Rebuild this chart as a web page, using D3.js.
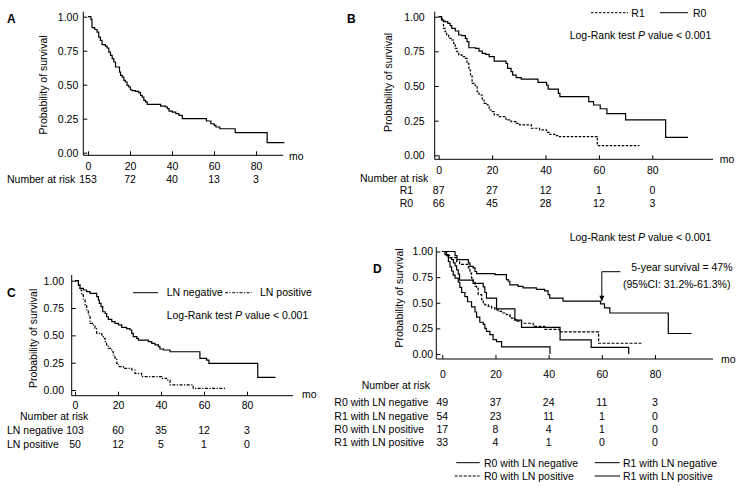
<!DOCTYPE html>
<html><head><meta charset="utf-8">
<script src="https://cdn.jsdelivr.net/npm/d3@7"></script>
<style>
body{margin:0;background:#fff}
svg{display:block}
text{font-family:"Liberation Sans",Arial,sans-serif;font-size:10.5px;fill:#000}
</style></head><body>
<svg id="c" width="746" height="487"></svg>
<script>
// ---------- data ----------
const timeTicks = [0, 20, 40, 60, 80];
const survTicks = [0, 0.25, 0.5, 0.75, 1];
const survTickLabels = ["0.00", "0.25", "0.50", "0.75", "1.00"];
const yTitle = "Probability of survival";
const xUnit = "mo";
const riskTitle = "Number at risk";
const logRankText = ["Log-Rank test ", "P", " value < 0.001"];

// Panel A: all patients
const aTime = [0,1.4,1.9,3.2,4.3,5.1,5.9,6.7,8.3,9.1,9.9,10.7,11.5,12.3,13.1,15.0,15.5,16.3,17.1,17.8,18.6,19.4,20.2,21.0,22.6,24.2,25.0,25.8,26.6,27.4,28.2,34.6,37.0,37.8,38.6,40.2,41.8,43.3,44.9,56.4,58.5,60.1,60.9,62.8,70.1,85.3,93.5];
const aSurv = [1,0.98,0.92,0.906,0.887,0.85,0.826,0.794,0.784,0.77,0.74,0.716,0.691,0.667,0.63,0.593,0.569,0.556,0.532,0.52,0.495,0.483,0.463,0.456,0.451,0.441,0.422,0.409,0.385,0.373,0.355,0.343,0.336,0.324,0.306,0.299,0.287,0.275,0.25,0.233,0.213,0.201,0.189,0.176,0.147,0.074,0.074];
const aRisk = [153, 72, 40, 13, 3];

// Panel B: R1 vs R0
const bSeries = ["R1", "R0"];
const bR1Time = [0,1.0,1.8,2.4,3.0,3.7,4.9,5.6,6.2,6.8,7.5,8.7,10,10.6,11.3,11.9,12.5,13.2,13.8,14.4,15.1,16.3,17,18.2,18.9,20.1,20.8,22.7,25.2,27.1,29,30.3,34.7,37.8,40.4,41.6,43.5,44.8,59.4,75.2];
const bR1Surv = [1,0.985,0.916,0.892,0.868,0.844,0.832,0.808,0.772,0.748,0.724,0.712,0.70,0.663,0.615,0.579,0.519,0.507,0.495,0.459,0.435,0.399,0.375,0.363,0.327,0.315,0.291,0.279,0.255,0.243,0.231,0.219,0.195,0.183,0.166,0.151,0.142,0.135,0.07,0.07];
const bR0Time = [0,1.1,1.8,2.4,3.4,4.3,4.9,6.2,7.5,8.7,10,10.6,11.3,13.8,15.1,16.3,17.6,18.9,20.8,25.2,25.8,27.1,27.7,29,30.9,37.2,40.4,41,44.8,45.4,56.2,58,60.5,63,70,85,93.4];
const bR0Surv = [1,0.976,0.969,0.964,0.952,0.935,0.916,0.897,0.868,0.863,0.844,0.82,0.776,0.772,0.752,0.736,0.728,0.712,0.68,0.663,0.627,0.603,0.579,0.56,0.55,0.526,0.507,0.478,0.447,0.423,0.387,0.363,0.336,0.30,0.255,0.13,0.13];
const bRiskR1 = [87, 27, 12, 1, 0];
const bRiskR0 = [66, 45, 28, 12, 3];

// Panel C: LN negative vs LN positive
const cSeries = ["LN negative", "LN positive"];
const cNegTime = [0,1.6,2.3,3.9,5.4,7,10.1,10.9,11.3,12.1,12.9,14,14.7,15.5,17.1,18.6,20.2,21.7,24,25.6,26.4,27.1,28.7,29.5,34.1,35.7,37.2,38.8,39.5,41.1,44.2,58.1,61.2,62.3,85,93.3];
const cNegSurv = [1,0.96,0.93,0.915,0.9,0.884,0.854,0.823,0.793,0.762,0.716,0.70,0.67,0.646,0.625,0.61,0.595,0.573,0.561,0.549,0.518,0.488,0.473,0.457,0.442,0.427,0.412,0.396,0.375,0.366,0.35,0.29,0.274,0.244,0.116,0.116];
const cPosTime = [0,1.6,2.3,3.1,3.9,4.7,5.4,6.2,7,8.5,9.3,10.1,12.4,13.2,14,14.7,15.5,17.1,17.8,18.6,19.4,20.2,22.5,26.4,27.9,31,40.3,42.6,44.2,55,69.8];
const cPosSurv = [1,0.96,0.915,0.87,0.823,0.777,0.732,0.686,0.61,0.595,0.564,0.518,0.503,0.473,0.442,0.412,0.381,0.35,0.32,0.29,0.244,0.213,0.198,0.183,0.152,0.122,0.107,0.09,0.046,0.015,0.015];
const cRiskNeg = [103, 60, 35, 12, 3];
const cRiskPos = [50, 12, 5, 1, 0];

// Panel D: four subgroups
const dSeries = ["R0 with LN negative", "R1 with LN negative", "R0 with LN positive", "R1 with LN positive"];
const dR0NegTime = [0,4.8,5.5,9.8,10.4,11.6,12.3,12.9,19.8,24.1,24.8,25.4,28.5,30.4,35.4,38.5,39.8,40.4,45.4,59.5,61,63,85,93.7];
const dR0NegSurv = [1,0.96,0.92,0.89,0.855,0.84,0.805,0.785,0.775,0.725,0.71,0.675,0.66,0.645,0.63,0.615,0.58,0.545,0.515,0.49,0.45,0.40,0.2,0.2];
const dR1NegTime = [0,1,2.3,3.5,4.2,4.8,5.4,6,6.5,11.6,15.4,16,16.6,20.4,27.3,29.8,44.3,56,70.1];
const dR1NegSurv = [1,0.97,0.94,0.92,0.89,0.86,0.82,0.78,0.72,0.69,0.655,0.60,0.545,0.44,0.33,0.26,0.137,0.065,0];
const dR0PosTime = [0,1.5,3,5.4,6.5,9.8,10.4,11,11.6,12.3,12.9,13.5,14.8,15.4,16,17.3,18.5,19.8,21,22.3,24.1,25.4,26,27.3,27.9,29.8,34.2,38.5,44.1,58.8,74.9];
const dR0PosSurv = [1,0.96,0.94,0.90,0.875,0.84,0.79,0.74,0.71,0.66,0.64,0.58,0.53,0.50,0.48,0.465,0.45,0.43,0.416,0.40,0.384,0.367,0.35,0.335,0.32,0.30,0.27,0.24,0.215,0.105,0.105];
const dR1PosTime = [0,1.6,2.3,2.9,3.5,4.1,4.8,6,6.6,7.3,8.5,9.5,11,12.3,12.9,14.1,15.4,16,16.6,17.9,19.1,20.4,22.3,40.5];
const dR1PosSurv = [1,0.96,0.90,0.85,0.81,0.77,0.74,0.70,0.65,0.60,0.56,0.51,0.46,0.41,0.36,0.31,0.29,0.25,0.22,0.19,0.14,0.12,0.07,0];
const dRisk = [[49,37,24,11,3],[54,23,11,1,0],[17,8,4,1,0],[33,4,1,0,0]];
const dNote = ["5-year survival = 47%", "(95%CI: 31.2%-61.3%)"];
const dNoteTime = 60, dNoteSurv = 0.51;

// ---------- drawing ----------
const svg = d3.select("#c");
const DASH = "2.5,1.5", DASHDOT = "3,1.5,1.2,1.5", DASH2 = "3,1.5";

function drawPanel(p) {
  const g = svg.append("g");
  const x = d3.scaleLinear().domain([0, 80]).range([p.x0, p.x80]);
  const y = d3.scaleLinear().domain([0, 1]).range([p.y0, p.y1]);

  g.append("path").attr("d", `M${p.ax},${p.axTop}V${p.axY}H${p.axRight}`)
    .attr("fill", "none").attr("stroke", "#000").attr("stroke-width", 1);

  const ya = g.append("g").attr("transform", `translate(${p.ax},0)`)
    .call(d3.axisLeft(y).tickValues(survTicks)
      .tickFormat(d => survTickLabels[survTicks.indexOf(d)])
      .tickSizeInner(-4).tickSizeOuter(0).tickPadding(p.yPad));
  ya.select(".domain").remove();

  const xa = g.append("g").attr("transform", `translate(0,${p.axY})`)
    .call(d3.axisBottom(x).tickValues(timeTicks).tickSizeInner(-4).tickSizeOuter(0));
  xa.select(".domain").remove();
  xa.selectAll("text").attr("y", p.xLabBase - p.axY).attr("dy", null);

  g.append("text").attr("x", p.moX).attr("y", p.moBase).text(xUnit);
  g.append("text").attr("transform", `translate(${p.yTitleX},${p.yTitleY}) rotate(-90)`)
    .attr("text-anchor", "middle").text(yTitle);
  g.append("text").attr("x", p.letterX).attr("y", p.letterBase)
    .style("font-size", "12px").style("font-weight", "bold").text(p.letter);

  const line = d3.line().x(d => x(d[0])).y(d => y(d[1])).curve(d3.curveStepAfter);
  p.curves.forEach(c => {
    g.append("path").datum(d3.zip(c.t, c.s)).attr("d", line)
      .attr("fill", "none").attr("stroke", "#000").attr("stroke-width", 1.2)
      .attr("stroke-dasharray", c.dash || null);
  });

  if (p.riskHeader) g.append("text").attr("x", p.riskHeader[0]).attr("y", p.riskHeader[1]).text(riskTitle);
  p.riskRows.forEach(r => {
    if (r.label) g.append("text").attr("x", r.lx).attr("y", r.base).text(r.label);
    g.selectAll(null).data(r.values).join("text")
      .attr("x", (d, i) => x(timeTicks[i])).attr("y", r.base)
      .attr("text-anchor", "middle").text(d => d);
  });
  return {g, x, y};
}

function logRank(g, xp, base) {
  const t = g.append("text").attr("x", xp).attr("y", base);
  t.append("tspan").text(logRankText[0]);
  t.append("tspan").style("font-style", "italic").text(logRankText[1]);
  t.append("tspan").text(logRankText[2]);
}
function legendItem(g, x1, x2, ly, dash, tx, base, label) {
  g.append("line").attr("x1", x1).attr("x2", x2).attr("y1", ly).attr("y2", ly)
    .attr("stroke", "#000").attr("stroke-width", 1).attr("stroke-dasharray", dash || null);
  g.append("text").attr("x", tx).attr("y", base).text(label);
}

// Panel A
drawPanel({
  letter: "A", letterX: 7, letterBase: 23,
  x0: 88, x80: 256, y0: 152.7, y1: 16.7,
  ax: 83.3, axTop: 11.7, axY: 155.3, axRight: 283.3, yPad: 5, xLabBase: 170,
  moX: 289, moBase: 160, yTitleX: 47, yTitleY: 85,
  curves: [{t: aTime, s: aSurv}],
  riskHeader: [7, 183],
  riskRows: [{values: aRisk, base: 183}]
});

// Panel B
const B = drawPanel({
  letter: "B", letterX: 347, letterBase: 23,
  x0: 438.7, x80: 652.3, y0: 155.3, y1: 16.7,
  ax: 434.7, axTop: 11.7, axY: 159.3, axRight: 713, yPad: 10, xLabBase: 174.3,
  moX: 719.7, moBase: 163.3, yTitleX: 392, yTitleY: 82.5,
  curves: [{t: bR1Time, s: bR1Surv, dash: DASH}, {t: bR0Time, s: bR0Surv}],
  riskHeader: [360, 181.7],
  riskRows: [{label: bSeries[0], lx: 399.7, values: bRiskR1, base: 194},
             {label: bSeries[1], lx: 399.7, values: bRiskR0, base: 207.3}]
});
legendItem(B.g, 591, 628, 12.7, DASH, 631.3, 16.7, bSeries[0]);
legendItem(B.g, 660, 688, 12.7, null, 693, 16.7, bSeries[1]);
logRank(B.g, 569.7, 39.3);

// Panel C
const C = drawPanel({
  letter: "C", letterX: 7, letterBase: 297,
  x0: 75, x80: 247, y0: 390, y1: 280.7,
  ax: 71.7, axTop: 275, axY: 395.7, axRight: 293, yPad: 7.7, xLabBase: 409.3,
  moX: 302, moBase: 398.3, yTitleX: 36.5, yTitleY: 338.3,
  curves: [{t: cNegTime, s: cNegSurv}, {t: cPosTime, s: cPosSurv, dash: DASHDOT}],
  riskHeader: [20, 420],
  riskRows: [{label: cSeries[0], lx: 7, values: cRiskNeg, base: 433.7},
             {label: cSeries[1], lx: 7, values: cRiskPos, base: 448}]
});
legendItem(C.g, 133, 158, 292.7, null, 166.7, 296, cSeries[0]);
legendItem(C.g, 225, 251.7, 292.7, DASHDOT, 260, 296, cSeries[1]);
logRank(C.g, 166.7, 319);

// Panel D
const D = drawPanel({
  letter: "D", letterX: 373, letterBase: 273,
  x0: 442.3, x80: 655, y0: 354, y1: 251.5,
  ax: 436.3, axTop: 247, axY: 359, axRight: 713, yPad: 3.3, xLabBase: 377.7,
  moX: 721, moBase: 363.3, yTitleX: 402.5, yTitleY: 298,
  curves: [{t: dR0NegTime, s: dR0NegSurv}, {t: dR1NegTime, s: dR1NegSurv},
           {t: dR0PosTime, s: dR0PosSurv, dash: DASH2}, {t: dR1PosTime, s: dR1PosSurv}],
  riskHeader: [361.7, 389],
  riskRows: dSeries.map((s, i) => ({label: s, lx: 334.3, values: dRisk[i], base: [406, 419.5, 433, 446][i]}))
});
logRank(D.g, 569.7, 240.5);
D.g.append("text").attr("x", 631.3).attr("y", 271).text(dNote[0]);
D.g.append("text").attr("x", 623).attr("y", 287.5).text(dNote[1]);
{
  const ax = D.x(dNoteTime), ay = D.y(dNoteSurv);
  D.g.append("path").attr("d", `M${ax + 18.5},271.7H${ax}V${ay - 5}`)
    .attr("fill", "none").attr("stroke", "#000").attr("stroke-width", 1);
  D.g.append("path").attr("d", `M${ax - 2.5},${ay - 6}L${ax + 2.5},${ay - 6}L${ax},${ay}Z`).attr("fill", "#000");
}
legendItem(D.g, 456.3, 479.7, 462.7, null, 484, 466.5, dSeries[0]);
legendItem(D.g, 594.7, 619.7, 462.7, null, 623, 466.5, dSeries[1]);
legendItem(D.g, 454.7, 479.7, 476, DASH2, 484, 480, dSeries[2]);
legendItem(D.g, 594.7, 620, 476, null, 623, 480, dSeries[3]);
</script>
</body></html>
